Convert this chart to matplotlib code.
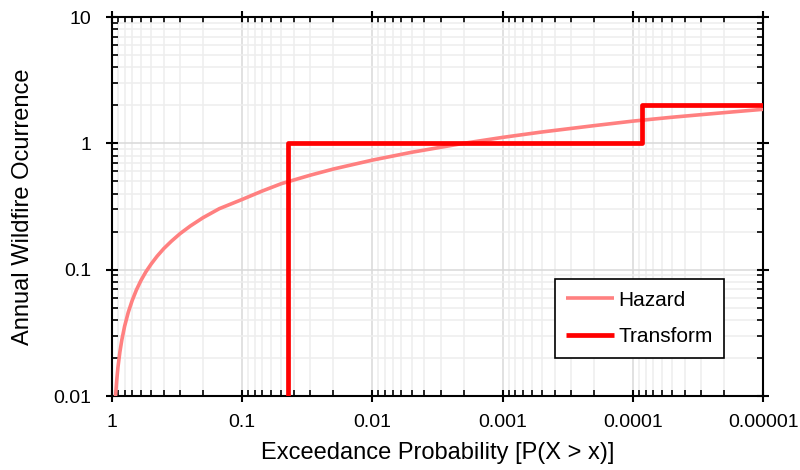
import numpy as np
import matplotlib.pyplot as plt
from matplotlib.ticker import LogLocator, NullFormatter

plt.rcParams['font.family'] = ['Liberation Sans', 'DejaVu Sans']

# Hazard curve
hazard_p = [0.94, 0.92, 0.9, 0.87, 0.84, 0.8, 0.75, 0.7, 0.65, 0.6, 0.55, 0.5,
            0.45, 0.4, 0.35, 0.3, 0.25, 0.2, 0.15, 0.1, 0.07, 0.05, 0.03, 0.02,
            0.01, 0.005, 0.002, 0.001, 0.0005, 0.0002, 0.0001, 0.00005,
            0.00002, 0.00001]
hazard_y = [0.0099, 0.0133, 0.0169, 0.0223, 0.0279, 0.0357, 0.046, 0.057, 0.069,
            0.082, 0.096, 0.111, 0.128, 0.147, 0.168, 0.193, 0.222, 0.258, 0.304,
            0.36, 0.42, 0.48, 0.56, 0.626, 0.737, 0.85, 1.0, 1.115, 1.23, 1.38,
            1.5, 1.61, 1.75, 1.86]

# Transform step function
transform_p = [0.0443, 0.0443, 0.0000845, 0.0000845, 0.00001]
transform_y = [0.01, 1.0, 1.0, 2.0, 2.0]

x_ticks = [1, 0.1, 0.01, 0.001, 0.0001, 0.00001]
x_labels = ['1', '0.1', '0.01', '0.001', '0.0001', '0.00001']
y_ticks = [0.01, 0.1, 1, 10]
y_labels = ['0.01', '0.1', '1', '10']

fig = plt.figure(figsize=(8, 4.7), dpi=100)
ax = fig.add_axes([0.14, 0.1574, 0.814, 0.8064])

ax.plot(hazard_p, hazard_y, color='#ff8080', linewidth=2.6, label='Hazard',
        solid_capstyle='butt', solid_joinstyle='round', zorder=3)
ax.plot(transform_p, transform_y, color='#ff0000', linewidth=3.4, label='Transform',
        solid_capstyle='butt', zorder=4)

ax.set_xscale('log')
ax.set_yscale('log')
ax.set_xlim(1, 1e-5)
ax.set_ylim(0.01, 10)

ax.set_xticks(x_ticks, x_labels)
ax.set_yticks(y_ticks, y_labels)
ax.xaxis.set_minor_locator(LogLocator(base=10, subs=np.arange(2, 10), numticks=20))
ax.yaxis.set_minor_locator(LogLocator(base=10, subs=np.arange(2, 10), numticks=20))
ax.xaxis.set_minor_formatter(NullFormatter())
ax.yaxis.set_minor_formatter(NullFormatter())

ax.tick_params(which='major', direction='inout', length=8, width=1.5,
               top=True, right=True, labelsize=14)
ax.tick_params(axis='x', which='major', pad=9)
ax.tick_params(axis='y', which='major', pad=11)
ax.tick_params(which='minor', direction='in', length=4, width=1.2,
               top=True, right=True)

ax.grid(True, which='major', color='#d9d9d9', linewidth=1.1, zorder=0)
ax.grid(True, which='minor', color='#eeeeee', linewidth=1.1, zorder=0)
ax.set_axisbelow(True)

for s in ax.spines.values():
    s.set_linewidth(1.5)

ax.set_xlabel('Exceedance Probability [P(X > x)]', fontsize=17, labelpad=8)
ax.set_ylabel('Annual Wildfire Ocurrence', fontsize=17, labelpad=14)

leg = ax.legend(loc='lower right', bbox_to_anchor=(0.940, 0.101), borderaxespad=0,
                fontsize=15, frameon=True, fancybox=False, edgecolor='black',
                framealpha=1, handlelength=2.3, handletextpad=0.2,
                borderpad=0.55, labelspacing=0.85)
leg.get_frame().set_linewidth(1.2)

fig.savefig('out.png', dpi=100)
